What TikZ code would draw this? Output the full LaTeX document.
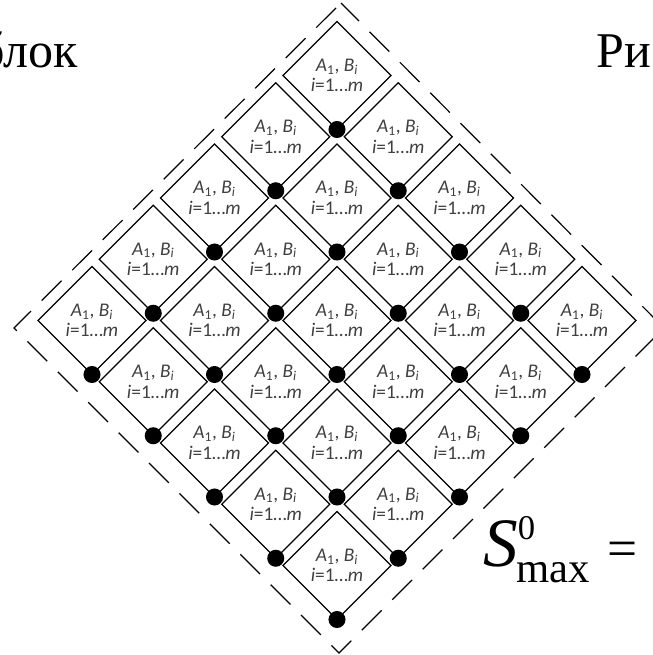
\documentclass[tikz,border=0pt]{standalone}
\usepackage{fontspec}
\setmainfont{Liberation Serif}
\newfontfamily\cellfont{Carlito}
\usetikzlibrary{shapes.geometric,positioning}
\tikzset{
  cell/.style={draw,diamond,aspect=1,minimum size=81pt,inner sep=0pt,outer sep=0pt,line width=0.9pt,align=center,text=black!75,font=\cellfont\fontsize{14.5}{15.5}\selectfont},
  joint/.style={fill=black},
  frame/.style={draw,line width=0.9pt,dash pattern=on 21pt off 11.25pt,dash phase=27pt},
  big/.style={inner sep=0pt,font=\fontsize{37.5}{40}\selectfont}
}
\newcommand{\celltext}{\textit{A}\textsubscript{1}, \textit{B}\textsubscript{\textit{i}}\\\textit{i}=1\ldots\textit{m}}
\newcommand{\smaxtext}{{\fontsize{52}{56}\selectfont\textit{S}}%
  \rlap{\raisebox{20pt}{\fontsize{26}{28}\selectfont 0}}%
  \kern-1pt\raisebox{-12pt}{\fontsize{32}{34}\selectfont max}%
  \hspace{13pt}{\fontsize{40}{44}\selectfont =}}

\begin{document}
\begin{tikzpicture}[x=0.75pt,y=-0.75pt]
\useasboundingbox (0,0) rectangle (652,655);

% grid of blocks, joint under each one
\foreach \i in {0,...,4}{
  \foreach \j in {0,...,4}{
    \node[cell] (blk-\i-\j) at ({337+61.25*(\j-\i)},{75.5+61.25*(\i+\j)}) {\celltext};
    \fill[joint] (blk-\i-\j.south) circle (6.4pt);
  }
}

% dashed border
\coordinate (ftop) at (341,3);
\coordinate (fleft) at (14,328);
\coordinate (fbot) at (339,653);
\coordinate (fright) at (664,328);
\draw[frame] (ftop) -- (fleft) -- (fbot) -- (fright) -- cycle;

% surrounding text
\node[big,anchor=base east] (blok) at (78,68) {блок};
\node[big,anchor=base west] (ris) at (596,68) {Ри};
\node[inner sep=0pt,anchor=base west] (smax) at (483,566) {\smaxtext};

\end{tikzpicture}
\end{document}
